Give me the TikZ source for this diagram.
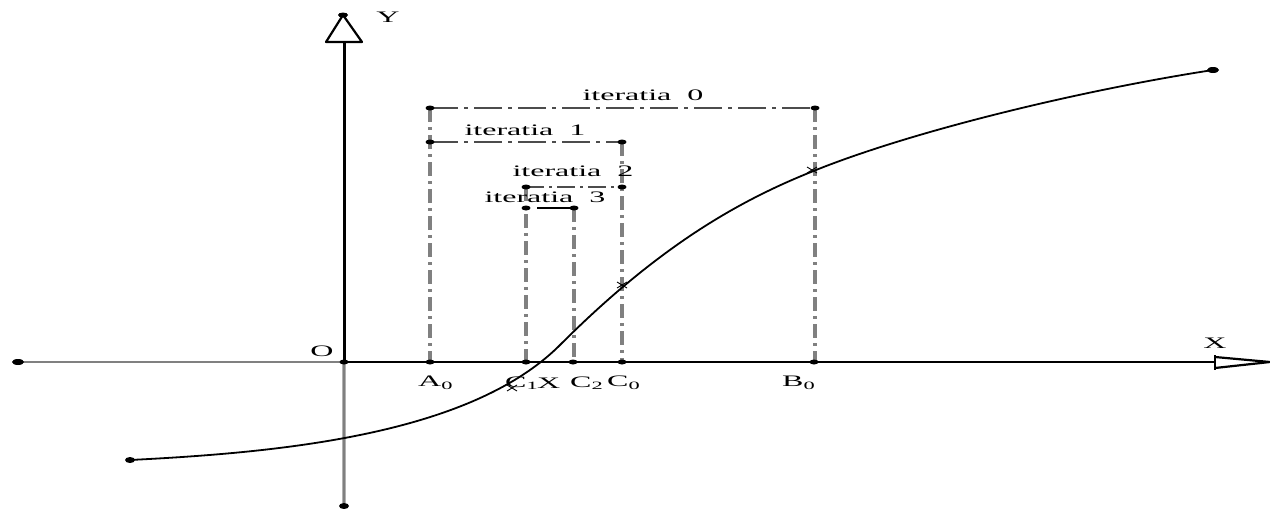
\documentclass[tikz,border=0pt]{standalone}
\usepackage{graphicx}
\usepackage{fontspec}
\setmainfont{Liberation Serif}
\usetikzlibrary{shapes.geometric}
\newcommand\wide[1]{\scalebox{2}[1]{#1}}
\begin{document}
\begin{tikzpicture}[x=1pt,y=-1pt,
  lbl/.style={font=\fontsize{16}{18}\selectfont, inner sep=0pt},
  axl/.style={lbl, anchor=west},
  dd/.style={draw=gray, line width=3.5pt, dash pattern=on 14pt off 5pt on 3pt off 5pt},
  hd/.style={draw=black!70, line width=1.3pt, dash pattern=on 28pt off 6pt on 4pt off 6pt},
  dotc/.style={fill=black, ellipse, inner sep=0pt, minimum width=9pt, minimum height=5pt},
  curve/.style={draw=black, line width=1.8pt}]
\useasboundingbox (0,0) rectangle (1270,509);
% axis coordinates
\coordinate (ytop) at (343,15);
\coordinate (ybot) at (344,506);
\coordinate (o) at (344,362);
\coordinate (xleft) at (18,362);
\coordinate (xtip) at (1270,362);
% dash-dot verticals
\draw[dd] (430,108) -- (430,362);
\draw[dd] (815,108) -- (815,362);
\draw[dd] (622,142) -- (622,362);
\draw[dd] (526,187) -- (526,362);
\draw[dd] (574,208) -- (574,362);
% horizontals
\draw[hd] (430,108) -- (815,108);
\draw[hd] (430,142) -- (622,142);
\draw[hd, dash pattern=on 18pt off 5pt on 3pt off 5pt] (526,187) -- (622,187);
\draw[black, line width=1.3pt] (537,208) -- (574,208);
% points on x axis
\node[dotc] (a0) at (430,362) {};
\node[dotc] (c1) at (526,362) {};
\node[dotc] (c2) at (573,362) {};
\node[dotc] (c0) at (622,362) {};
\node[dotc] (b0) at (814,362) {};
% top points
\node[dotc] (a0t) at (430,108) {};
\node[dotc] (b0t) at (815,108) {};
\node[dotc] (a1t) at (430,142) {};
\node[dotc] (c0t) at (622,142) {};
\node[dotc] (c1t) at (526,187) {};
\node[dotc] (c0t2) at (622,187) {};
\node[dotc] (c1t3) at (526,208) {};
\node[dotc] (c2t) at (574,208) {};
% axes
\draw[gray, line width=1.6pt] (xleft) -- (o);
\draw[black, line width=1.8pt] (o) -- (1215,362);
\draw[gray!60, line width=4pt] (o) -- (ybot);
\draw[gray, line width=1.5pt] (o) -- (ybot);
\draw[black, line width=3pt] (o) -- (344,42);
\fill (xleft) ellipse (6pt and 3pt);
\fill (ybot) ellipse (5pt and 3pt);
\node[dotc] (od) at (o) {};
% arrow heads
\draw[line width=2.2pt, line join=round] (344,42) -- (326,42) -- (ytop) -- (362,42) -- cycle;
\fill (ytop) ellipse (5pt and 2.5pt);
\draw[line width=2.2pt] (1215,355) -- (1215,370);
\draw[line width=2.2pt, line join=round] (1215,357) -- (xtip) -- (1215,368);
% curve
\coordinate (cs) at (130,460);
\coordinate (ci) at (560,345);
\coordinate (cm) at (816,170);
\coordinate (ce) at (1213,70);
\draw[curve] (cs) .. controls (280,452.5) and (470,435) .. (ci)
  .. controls (660,245) and (740,200) .. (cm)
  .. controls (916,130) and (1083,90) .. (ce);
\fill (cs) ellipse (5pt and 3pt);
\fill (ce) ellipse (6pt and 3pt);
\foreach \p in {(512,388),(622,285),(812,170)} {
  \draw[line width=0.9pt] \p ++(-5,-3) -- ++(10,6);
  \draw[line width=0.9pt] \p ++(-5,3) -- ++(10,-6);
}
% labels
\node[lbl] (ylab) at (388,17) {\wide{Y}};
\node[lbl] (xlab) at (1215,343) {\wide{X}};
\node[lbl] (olab) at (322,351) {\wide{O}};
\node[axl] (la0) at (418,383) {\wide{A\textsubscript{0}}};
\node[axl] (lc1) at (505,383) {\wide{C\textsubscript{1}}};
\node[axl] (lx) at (537,383) {\wide{X}};
\node[axl] (lc2) at (570,383) {\wide{C\textsubscript{2}}};
\node[axl] (lc0) at (607,383) {\wide{C\textsubscript{0}}};
\node[axl] (lb0) at (782,383) {\wide{B\textsubscript{0}}};
\node[lbl] (it0) at (643,95) {\wide{iteratia\ \ 0}};
\node[lbl] (it1) at (525,130) {\wide{iteratia\ \ 1}};
\node[lbl] (it2) at (573,171) {\wide{iteratia\ \ 2}};
\node[lbl] (it3) at (545,197) {\wide{iteratia\ \ 3}};
\end{tikzpicture}
\end{document}
